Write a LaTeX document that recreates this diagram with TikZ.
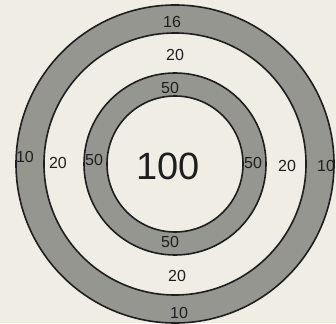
\documentclass[tikz,border=0pt]{standalone}
\usepackage{fontspec}
\setmainfont{Liberation Sans}
\definecolor{paper}{RGB}{240,238,228}
\definecolor{ringgray}{RGB}{150,150,144}
\definecolor{ink}{RGB}{30,30,30}
\begin{document}
\begin{tikzpicture}[x=1pt,y=-1pt,
  ringline/.style={draw=ink,line width=1.6pt},
  ringfill/.style={fill=ringgray,even odd rule},
  lbl/.style={text=ink,inner sep=0pt,font=\fontsize{16}{18}\selectfont},
  biglbl/.style={text=ink,inner sep=0pt,font=\fontsize{38}{40}\selectfont}]
\fill[paper] (0,0) rectangle (336,323);
\useasboundingbox (0,0) rectangle (336,323);
\coordinate (c) at (175,164);
% outer gray ring
\fill[ringfill] (c) circle (159pt) (c) circle (131pt);
\draw[ringline] (c) circle (159pt);
\draw[ringline] (c) circle (131pt);
% inner gray ring
\fill[ringfill] (c) circle (91pt) (c) circle (68pt);
\draw[ringline] (c) circle (91pt);
\draw[ringline] (c) circle (68pt);
% labels
\node[lbl] (t10) at (172,22) {16};
\node[lbl] (t20) at (175,55) {20};
\node[lbl] (t50) at (170,88) {50};
\node[lbl] (l10) at (25,157) {10};
\node[lbl] (l20) at (58,163) {20};
\node[lbl] (l50) at (94,160) {50};
\node[lbl] (r50) at (253,163) {50};
\node[lbl] (r20) at (287,166) {20};
\node[lbl] (r10) at (326,166) {10};
\node[lbl] (b50) at (170,242) {50};
\node[lbl] (b20) at (177,276) {20};
\node[lbl] (b10) at (179,313) {10};
\node[biglbl] (center) at (168,166) {100};
\end{tikzpicture}
\end{document}
